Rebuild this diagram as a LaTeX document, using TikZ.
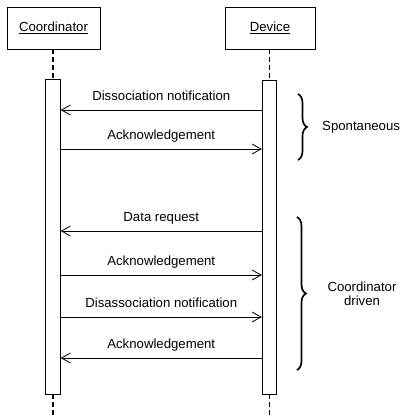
\documentclass[tikz,border=0pt]{standalone}
\usepackage{fontspec}
\setmainfont{Liberation Sans}
\usetikzlibrary{arrows.meta,decorations.pathreplacing}
\begin{document}
\begin{tikzpicture}[x=1bp,y=-1bp,
  font=\fontsize{13.2bp}{14.5bp}\selectfont,
  actor/.style={draw, line width=0.8bp, minimum height=42bp, inner sep=0},
  actbar/.style={draw, line width=0.8bp, fill=white, minimum width=14.5bp, inner sep=0},
  lifeline/.style={line width=1.6bp, dash pattern=on 5bp off 3bp},
  msg/.style={line width=0.8bp, -{Straight Barb[length=9bp,width=10bp,line width=0.8bp]}},
  msglabel/.style={midway, anchor=base, yshift=9.5bp, inner sep=0},
  grp/.style={line width=1.7bp, decorate, decoration={brace, amplitude=9bp}}]
\useasboundingbox (0,0) rectangle (402,418);

% participants
\node[actor, minimum width=93bp] (coord) at (53.5,28) {\underline{Coordinator}};
\node[actor, minimum width=90bp] (dev) at (270,28) {\underline{Device}};

% lifeline ends
\coordinate (cbot) at (53,418);
\coordinate (dbot) at (269.5,418);
\coordinate (ctop) at (53,49);
\coordinate (dtop) at (269.5,49);

% activation bars
\node[actbar, minimum height=315bp] (cbar) at (53,236.5) {};
\node[actbar, minimum height=314bp] (dbar) at (269.5,237) {};

% dashed lifelines
\draw[lifeline] (ctop) -- (cbar.north);
\draw[lifeline] (dtop) -- (dbar.north);
\draw[lifeline] (cbar.south) -- (cbot);
\draw[lifeline] (dbar.south) -- (dbot);

% message levels
\coordinate (y1) at (0,110);
\coordinate (y2) at (0,149);
\coordinate (y3) at (0,231);
\coordinate (y4) at (0,275);
\coordinate (y5) at (0,317);
\coordinate (y6) at (0,358);

% messages
\draw[msg] (dbar.west |- y1) -- node[msglabel] {Dissociation notification} (cbar.east |- y1);
\draw[msg] (cbar.east |- y2) -- node[msglabel] {Acknowledgement} (dbar.west |- y2);
\draw[msg] (dbar.west |- y3) -- node[msglabel] {Data request} (cbar.east |- y3);
\draw[msg] (cbar.east |- y4) -- node[msglabel] {Acknowledgement} (dbar.west |- y4);
\draw[msg] (cbar.east |- y5) -- node[msglabel] {Disassociation notification} (dbar.west |- y5);
\draw[msg] (dbar.west |- y6) -- node[msglabel] {Acknowledgement} (cbar.east |- y6);

% groupings
\coordinate (b1t) at (298,94);
\coordinate (b1b) at (298,160);
\coordinate (b2t) at (297,217);
\coordinate (b2b) at (297,370);
\draw[grp] (b1t) -- (b1b);
\draw[grp] (b2t) -- (b2b);
\node[anchor=west, inner sep=0] (spont) at (322,127) {Spontaneous};
\node[align=center, inner sep=0] (cdrv) at (362,294) {Coordinator\\driven};
\end{tikzpicture}
\end{document}
